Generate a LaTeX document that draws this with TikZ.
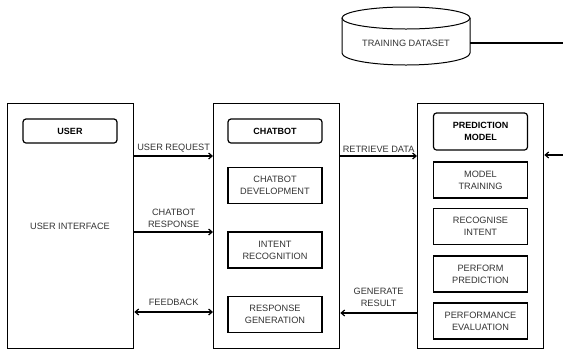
\documentclass[tikz,border=0pt]{standalone}
\usepackage{fontspec}
\setmainfont{Liberation Sans}
\usetikzlibrary{arrows.meta}
\begin{document}
\begin{tikzpicture}[x=1pt,y=-1pt,
  every node/.style={font=\fontsize{9.2}{12}\selectfont, text=black!80, align=center, inner sep=0pt},
  panel/.style={draw, line width=1.3pt, minimum width=126pt, minimum height=245pt, anchor=north west},
  titlebox/.style={draw, line width=1.2pt, rounded corners=3pt, text=black, font=\fontsize{9}{12}\selectfont\bfseries, minimum width=94pt},
  subbox/.style={draw, line width=1.2pt, minimum width=94pt, minimum height=36pt},
  lbl/.style={anchor=south},
  conn/.style={line width=1.2pt, -{Straight Barb[length=3.5pt,width=6pt]}},
  dconn/.style={line width=1.2pt, {Straight Barb[length=3.5pt,width=6pt]}-{Straight Barb[length=3.5pt,width=6pt]}}
]
\useasboundingbox (0,0) rectangle (563,349);
% panels
\node[panel] (ui) at (7,103) {};
\node[panel] (cb) at (213,103) {};
\node[panel] (pm) at (417,103) {};
\node at (70,226) (uitext) {USER INTERFACE};
% left
\node[titlebox, minimum height=24pt] (user) at (70,131) {USER};
% middle
\node[titlebox, minimum height=24pt] (chat) at (275,131) {CHATBOT};
\node[subbox] (dev) at (275,185.5) {CHATBOT\\DEVELOPMENT};
\node[subbox] (ir) at (275,250) {INTENT\\RECOGNITION};
\node[subbox] (rg) at (275,314.5) {RESPONSE\\GENERATION};
% right
\node[titlebox, minimum height=37pt] (pmt) at (480.5,131.5) {PREDICTION\\MODEL};
\node[subbox] (mt) at (480.5,180) {MODEL\\TRAINING};
\node[subbox] (ri) at (480.5,226.5) {RECOGNISE\\INTENT};
\node[subbox] (pp) at (480.5,274) {PERFORM\\PREDICTION};
\node[subbox] (pe) at (480.5,321) {PERFORMANCE\\EVALUATION};
% cylinder
\draw[line width=1pt] (406,18) ellipse [x radius=64, y radius=11];
\draw[line width=1pt] (342,18) -- (342,53) arc[start angle=180, end angle=0, x radius=64, y radius=12] -- (470,18);
\node[minimum width=128pt, minimum height=12pt] (ds) at (406,43) {TRAINING DATASET};
\coordinate (dsend) at (563,43);
\coordinate (inend) at (563,155);
% connectors
\draw[conn] (ui.east |- 0,156) -- node[lbl, above=3pt] {USER REQUEST} (cb.west |- 0,156);
\draw[conn] (ui.east |- 0,232) -- node[lbl, above=4pt] {CHATBOT\\RESPONSE} (cb.west |- 0,232);
\draw[dconn] (ui.east |- 0,312) -- node[lbl, above=6pt] {FEEDBACK} (cb.west |- 0,312);
\draw[conn] (cb.east |- 0,156) -- node[lbl, above=3pt] {RETRIEVE DATA} (pm.west |- 0,156);
\draw[conn] (pm.west |- 0,313) -- node[lbl, above=6pt] {GENERATE\\RESULT} (cb.east |- 0,313);
\draw[line width=1.2pt] (ds.east |- dsend) -- (dsend);
\draw[conn] (inend) -- (pm.east |- inend);
\end{tikzpicture}
\end{document}
